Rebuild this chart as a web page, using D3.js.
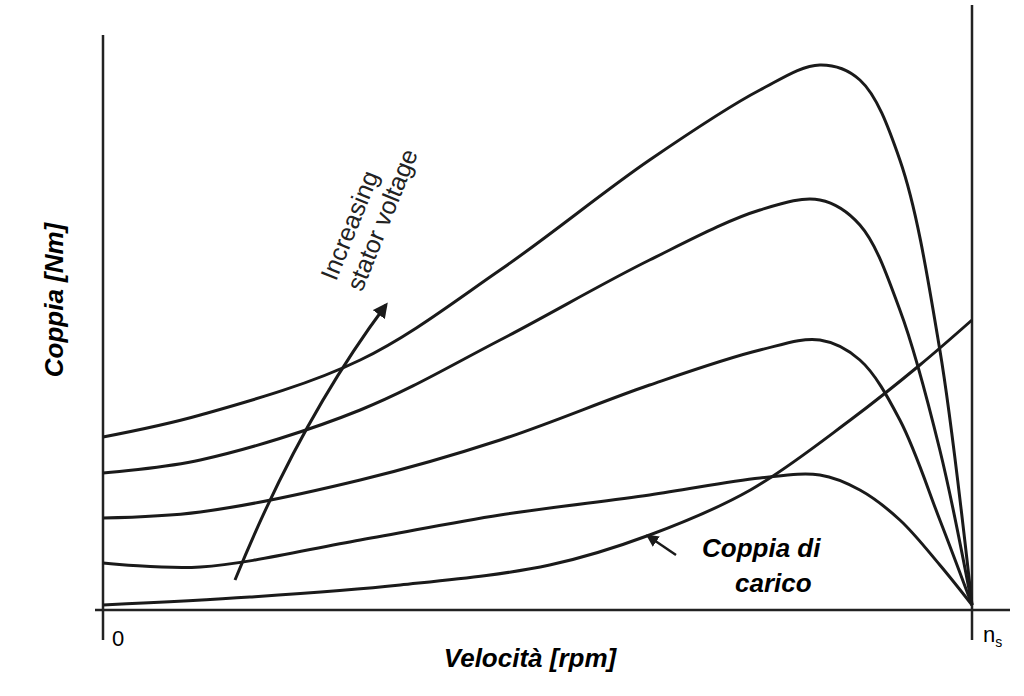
<!DOCTYPE html>
<html>
<head>
<meta charset="utf-8">
<script src="https://cdn.jsdelivr.net/npm/d3@7"></script>
<style>
  body { margin: 0; background: #fff; }
  text { font-family: "Liberation Sans", Arial, sans-serif; }
</style>
</head>
<body>
<svg id="chart" width="1024" height="696"></svg>
<script>
// speed in % of synchronous speed, torque in arbitrary units
const speed = [0, 11.2, 29.6, 45.7, 62.9, 75.6, 82.5, 87.1, 91.7, 96.3, 100];
const torqueV1 = [34.6, 39, 50, 68, 90, 104, 109, 106, 90, 52, 1];
const torqueV2 = [27.4, 30, 40, 54, 70, 80, 82, 77, 60, 32, 1];
const torqueV3 = [18.4, 19.6, 26, 34, 45, 52, 54, 50, 38, 18, 1];
const torqueV4 = [9.4, 8.6, 14, 19, 23, 26.4, 27, 24, 18, 9, 1];
const loadSpeed = [0, 16.9, 34.2, 51.4, 62.9, 74.5, 86, 94, 100];
const loadTorque = [1, 2.6, 5, 9, 15, 24, 38, 49, 58];

const svg = d3.select("#chart");
const x = d3.scaleLinear().domain([0, 100]).range([103, 972]);
const y = d3.scaleLinear().domain([0, 120]).range([610, 10]);

const line = d3.line()
  .x(d => x(d[0]))
  .y(d => y(d[1]))
  .curve(d3.curveCatmullRom.alpha(0.5));

// axes
svg.append("line").attr("x1", 95).attr("x2", 1010).attr("y1", y(0)).attr("y2", y(0))
  .attr("stroke", "#222").attr("stroke-width", 2.5);
svg.append("line").attr("x1", x(0)).attr("x2", x(0)).attr("y1", 35).attr("y2", 640)
  .attr("stroke", "#222").attr("stroke-width", 2.5);
svg.append("line").attr("x1", x(100)).attr("x2", x(100)).attr("y1", 5).attr("y2", 640)
  .attr("stroke", "#222").attr("stroke-width", 2.5);

[torqueV1, torqueV2, torqueV3, torqueV4].forEach(t => {
  svg.append("path")
    .datum(speed.map((s, i) => [s, t[i]]))
    .attr("d", line)
    .attr("fill", "none").attr("stroke", "#1a1a1a").attr("stroke-width", 3);
});
svg.append("path")
  .datum(loadSpeed.map((s, i) => [s, loadTorque[i]]))
  .attr("d", line)
  .attr("fill", "none").attr("stroke", "#1a1a1a").attr("stroke-width", 3);

// arrow markers
const defs = svg.append("defs");
defs.append("marker").attr("id", "head").attr("viewBox", "0 0 10 10")
  .attr("refX", 8).attr("refY", 5).attr("markerWidth", 5).attr("markerHeight", 5)
  .attr("orient", "auto")
  .append("path").attr("d", "M0,0L10,5L0,10z").attr("fill", "#1a1a1a");

svg.append("path").attr("d", "M235,580 Q300,420 386,305")
  .attr("fill", "none").attr("stroke", "#1a1a1a").attr("stroke-width", 3)
  .attr("marker-end", "url(#head)");
svg.append("path").attr("d", "M676,555 L648,536")
  .attr("fill", "none").attr("stroke", "#1a1a1a").attr("stroke-width", 2.5)
  .attr("marker-end", "url(#head)");

// texts
const note = svg.append("text").attr("transform", "translate(336,282) rotate(-68)")
  .attr("font-size", 25).attr("fill", "#222");
note.append("tspan").attr("x", 0).attr("y", 0).text("Increasing");
note.append("tspan").attr("x", 0).attr("y", 28).text("stator voltage");

svg.append("text").attr("x", 702).attr("y", 557).attr("font-size", 26)
  .attr("font-weight", "bold").attr("font-style", "italic").text("Coppia di");
svg.append("text").attr("x", 735).attr("y", 592).attr("font-size", 26)
  .attr("font-weight", "bold").attr("font-style", "italic").text("carico");

svg.append("text").attr("transform", "translate(63,300) rotate(-90)")
  .attr("text-anchor", "middle").attr("font-size", 26)
  .attr("font-weight", "bold").attr("font-style", "italic").text("Coppia [Nm]");
svg.append("text").attr("x", 530).attr("y", 667).attr("text-anchor", "middle")
  .attr("font-size", 26).attr("font-weight", "bold").attr("font-style", "italic")
  .text("Velocità [rpm]");

svg.append("text").attr("x", 112).attr("y", 646).attr("font-size", 22).text("0");
const ns = svg.append("text").attr("x", 983).attr("y", 642).attr("font-size", 22);
ns.append("tspan").text("n");
ns.append("tspan").attr("font-size", 14).attr("dy", 5).text("s");
</script>
</body>
</html>
